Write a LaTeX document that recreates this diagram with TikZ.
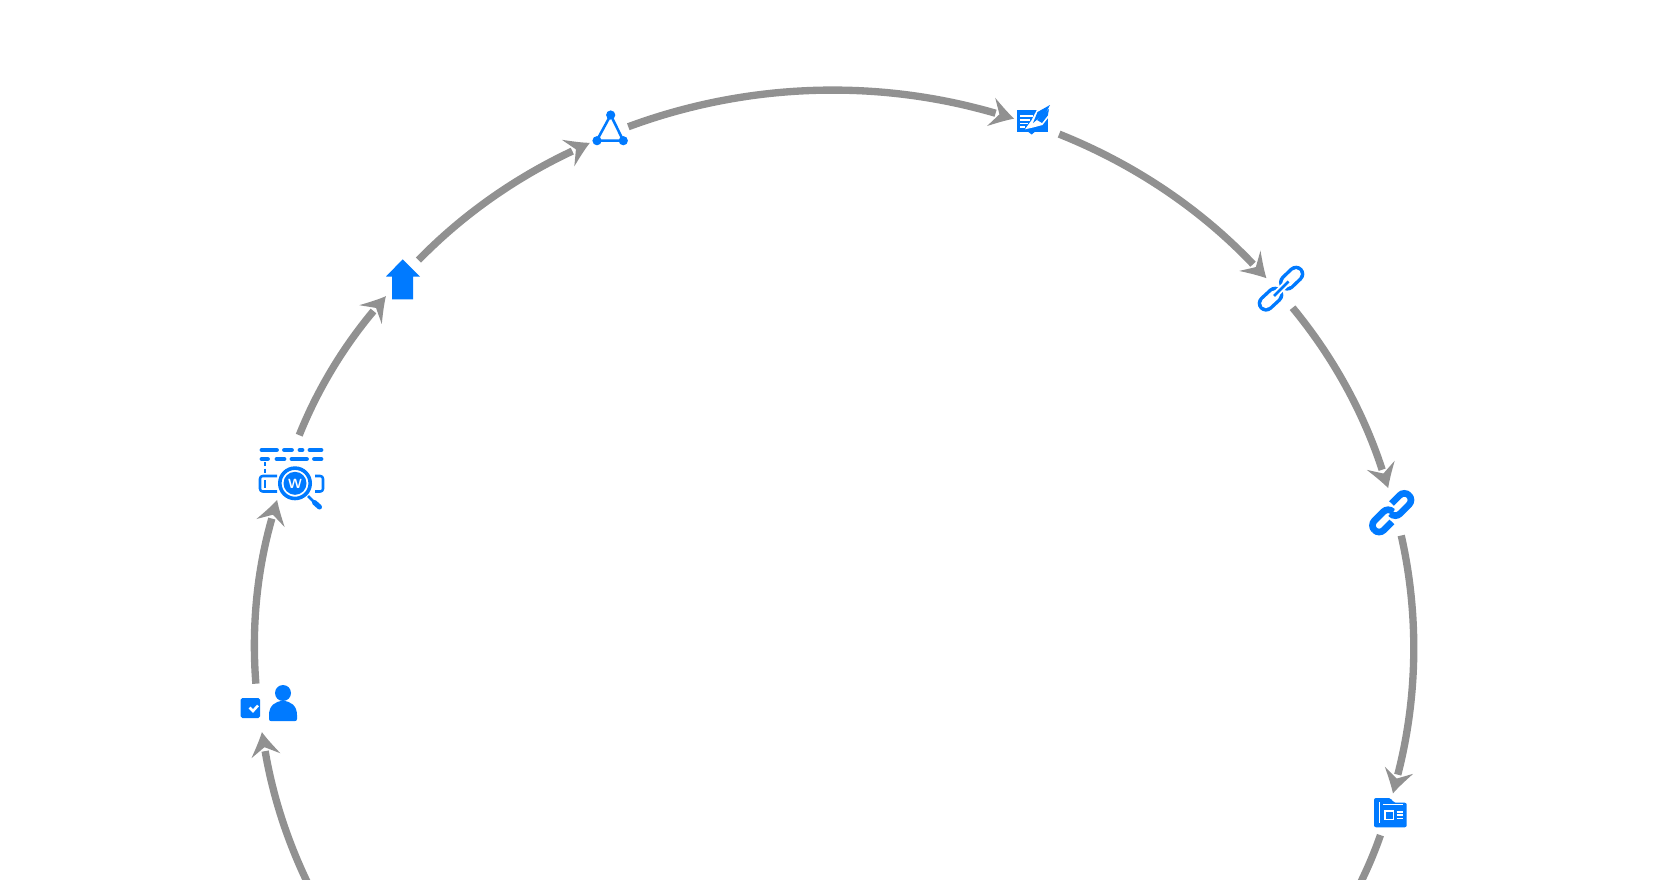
\documentclass[tikz,border=0pt]{standalone}
\usepackage{xcolor}
\usepackage{tikz}
\usetikzlibrary{arrows.meta}
\definecolor{iconblue}{RGB}{0,122,255}
\definecolor{flowgray}{RGB}{145,145,145}
\pgfdeclarearrow{
  name=Barb,
  setup code={
    \pgfarrowssettipend{0pt}
    \pgfarrowssetlineend{-14.5pt}
    \pgfarrowssetbackend{-18pt}
    \pgfarrowssetvisualbackend{-18pt}
  },
  drawing code={
    \pgfsetlinewidth{0pt}
    \pgfpathmoveto{\pgfpointorigin}
    \pgfpathcurveto{\pgfpoint{-6pt}{3pt}}{\pgfpoint{-12pt}{7pt}}{\pgfpoint{-18pt}{11pt}}
    \pgfpathlineto{\pgfpoint{-11.5pt}{0pt}}
    \pgfpathlineto{\pgfpoint{-18pt}{-11pt}}
    \pgfpathcurveto{\pgfpoint{-12pt}{-7pt}}{\pgfpoint{-6pt}{-3pt}}{\pgfpointorigin}
    \pgfpathclose
    \pgfusepathqfill
  }
}
\tikzset{
  flow/.style={draw=flowgray,line width=5.5pt,-{Barb[]}},
  stub/.style={draw=flowgray,line width=5.5pt},
  holder/.style={circle,inner sep=0pt},
  solid icon/.style={fill=iconblue,draw=none},
  thin icon/.style={draw=iconblue,line width=1.9pt,line join=round},
  bar/.style={draw=iconblue,line width=3.6pt,line cap=round},
  knockout/.style={draw=white,line width=1.2pt},
  capsule/.style={draw=iconblue,line cap=round},
  hollow/.style={draw=white,line cap=round},
  hook/.style={draw=iconblue,line width=5pt,rounded corners=5pt}
}
\begin{document}
\begin{tikzpicture}[x=0.75pt,y=0.75pt,yscale=-1,xscale=1]
    \useasboundingbox (0,0) rectangle (1659,879);
    \clip (0,0) rectangle (1659,879);

    \coordinate (leftend) at (316.2,900);
    \coordinate (rightend) at (1351.8,900);
    \node [holder,minimum size=36.2pt] (person) at (257.8,708) {};
    \node [holder,minimum size=51pt] (search) at (286.5,467) {};
    \node [holder,minimum size=36.1pt] (upload) at (401.5,277.5) {};
    \node [holder,minimum size=30.9pt] (triad) at (608.7,134) {};
    \node [holder,minimum size=35.3pt] (sign) at (1037,125.3) {};
    \node [holder,minimum size=29.2pt] (chaina) at (1280,292.5) {};
    \node [holder,minimum size=36.5pt] (chainb) at (1395.8,511.5) {};
    \node [holder,minimum size=32.3pt] (news) at (1387.5,814.5) {};

    % ring
    \draw [flow] (leftend) .. controls (291.4,852.8) and (273.9,802.5) .. (person);
    \draw [flow] (person) .. controls (251.5,628.1) and (256.6,571.9) .. (search);
    \draw [flow] (search) .. controls (317.1,390.5) and (342.4,348.2) .. (upload);
    \draw [flow] (upload) .. controls (462,215.4) and (514.3,178.3) .. (triad);
    \draw [flow] (triad) .. controls (745.9,83.1) and (875.3,78.2) .. (sign);
    \draw [flow] (sign) .. controls (1133,163.6) and (1199.5,207.9) .. (chaina);
    \draw [flow] (chaina) .. controls (1332.4,356) and (1363,411.1) .. (chainb);
    \draw [flow] (chainb) .. controls (1419,614.2) and (1417.9,696.6) .. (news);
    \draw [stub] (news) .. controls (1372.8,857.4) and (1362.9,878.8) .. (rightend);

    % person with check box
    \draw [solid icon,rounded corners=1.2pt] (240.7,698) rectangle (260,718);
    \draw [draw=white,line width=1.9pt] (249.5,707.5) -- (253,711) -- (258,705.5);
    \fill [iconblue] (283,693) circle [radius=8];
    \draw [solid icon] (269,719) -- (269,715) .. controls (269,706) and (275,701) .. (283,701) .. controls (291,701) and (297,706) .. (297,715) -- (297,719) .. controls (297,720.5) and (296,721) .. (295,721) -- (271,721) .. controls (270,721) and (269,720.5) .. (269,719) -- cycle;

    % search box
    \draw [bar] (262,450) -- (276.5,450);
    \draw [bar] (284.5,450) -- (291.5,450);
    \draw [bar] (300,450) -- (302,450);
    \draw [bar] (310,450) -- (321,450);
    \draw [bar] (262,459) -- (267.5,459);
    \draw [bar] (277,459) -- (284,459);
    \draw [bar] (292,459) -- (306.5,459);
    \draw [bar] (314.5,459) -- (321,459);
    \draw [draw=iconblue,line width=1.5pt,dash pattern=on 3pt off 2pt] (265,462) -- (265,475);
    \draw [draw=iconblue,line width=1.5pt] (265,480) -- (265,487.5);
    \draw [thin icon,rounded corners=2pt] (277,476) -- (260,476) -- (260,491.5) -- (277,491.5);
    \draw [thin icon,rounded corners=2pt] (315,476) -- (323,476) -- (323,491.5) -- (315,491.5);
    \draw [draw=iconblue,fill=white,line width=2.7pt] (295,483.3) circle [radius=15.2];
    \fill [iconblue] (295,483.3) circle [radius=11.5];
    \node [inner sep=0pt,text=white,font=\fontsize{10}{10}\selectfont\sffamily\bfseries] (wmark) at (295,483.6) {W};
    \draw [draw=iconblue,line width=2pt] (308,496) -- (314,502);
    \draw [draw=iconblue,line width=3.8pt,line cap=round] (314.5,502.5) -- (319.5,507);

    % upload arrow
    \draw [solid icon] (402.7,259.3) -- (420,276.5) -- (413,276.5) -- (413,299.3) -- (392,299.3) -- (392,276.5) -- (386,276.5) -- cycle;

    % triangle
    \draw [thin icon] (610.7,115) -- (596.7,140.7) -- (623.3,140.7) -- cycle;
    \fill [iconblue] (610.7,115) circle [radius=4.6];
    \fill [iconblue] (597,140.7) circle [radius=4.6];
    \fill [iconblue] (623.3,140.7) circle [radius=4.6];

    % signed form
    \draw [solid icon] (1016.7,110) rectangle (1047.7,131.7);
    \draw [solid icon] (1028,131.7) -- (1035,131.7) -- (1031.7,134.5) -- cycle;
    \draw [knockout] (1020,116) -- (1033,116);
    \draw [knockout] (1020,120) -- (1030,120);
    \draw [knockout] (1020,123.5) -- (1028,123.5);
    \draw [knockout] (1020,127) -- (1025,127);
    \fill [white] (1025,129.3) -- (1031.7,120) -- (1037,109.5) -- (1051,103.5) -- (1049.5,116) -- (1042.5,125) -- (1033,127.5) -- cycle;
    \fill [iconblue] (1037.5,112) -- (1050,105) -- (1046,112.5) -- (1033,123) -- cycle;
    \fill [iconblue] (1049,109) -- (1047.8,115.5) -- (1042,123) -- (1037,120) -- cycle;

    % first chain
    \draw [capsule,line width=12.5pt] (1287.3,282.3) -- (1296,274);
    \draw [hollow,line width=7.3pt] (1287.3,282.3) -- (1296,274);
    \draw [capsule,line width=12.5pt] (1266,303.3) -- (1275,295);
    \draw [hollow,line width=7.3pt] (1266,303.3) -- (1275,295);
    \draw [draw=white,line width=5pt] (1274,296) -- (1288.5,281.5);
    \draw [draw=iconblue,line width=2pt] (1274,296) -- (1288.5,281.5);

    % second chain
    \draw [hook] (1391.9,521.9) -- (1379.1,534.8) -- (1369.7,525.4) -- (1388.1,507) -- (1392.8,511.7);
    \draw [hook] (1391.5,503.5) -- (1404.3,490.6) -- (1413.7,500) -- (1395.3,518.4) -- (1390.6,513.7);

    % news folder
    \draw [solid icon,rounded corners=1.5pt] (1374,798) -- (1391,798) -- (1393.5,802.7) -- (1406.7,802.7) -- (1406.7,827.3) -- (1374,827.3) -- cycle;
    \draw [knockout] (1379.3,802) -- (1379.3,823);
    \draw [knockout] (1383,804.5) -- (1403,804.5);
    \draw [knockout] (1384.8,810.7) rectangle (1393.3,819.3);
    \draw [knockout] (1396.7,811.7) -- (1402.7,811.7);
    \draw [knockout] (1396.7,815) -- (1402.7,815);
    \draw [knockout] (1396.7,818.3) -- (1402.7,818.3);
\end{tikzpicture}
\end{document}
